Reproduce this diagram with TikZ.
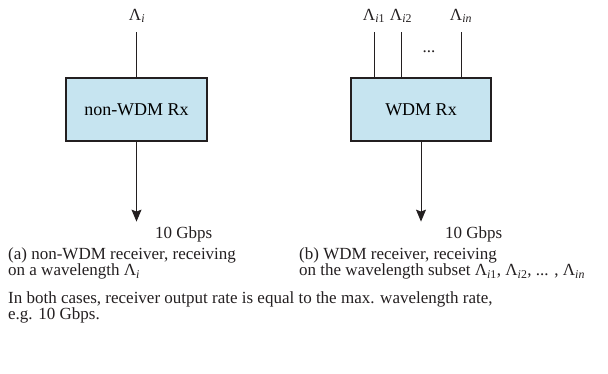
\documentclass[tikz,border=0pt]{standalone}
\usepackage{fontspec}
\setmainfont{Liberation Serif}
\usetikzlibrary{arrows.meta,positioning}

\definecolor{rxblue}{RGB}{198,228,240}
\definecolor{ink}{RGB}{35,31,32}

\tikzset{
  rxbox/.style={draw=ink, line width=1.2pt, fill=rxblue, minimum width=141pt,
    minimum height=63pt, inner sep=0pt, font=\fontsize{18}{20}\selectfont},
  wire/.style={line width=1pt, draw=ink},
  outwire/.style={wire, -{Stealth[length=12pt,width=10pt,inset=2pt]}},
  lbl/.style={font=\fontsize{17}{17}\selectfont, inner sep=0pt, text=ink},
  caption/.style={font=\fontsize{17}{15}\selectfont, align=left,
    anchor=north west, inner sep=0pt, text=ink},
}

\begin{document}
\begin{tikzpicture}[x=1pt,y=-1pt]
\useasboundingbox (0,0) rectangle (608,373);

% receivers
\node[rxbox] (rxA) at (136.5,109.5) {non-WDM Rx};
\node[rxbox, minimum width=140pt] (rxB) at (421,109.5) {WDM Rx};

% single wavelength input
\coordinate (inA) at (136.5,32);
  \draw[wire] (inA) -- (inA |- rxA.north);
\node[lbl, anchor=base] (lamA) at (137,20) {Λ\textsubscript{\textit{i}}};

% wavelength subset inputs
\foreach \x/\sub [count=\k] in {374/{\textit{i}1}, 401/{\textit{i}2}, 461/{\textit{in}}}{
  \coordinate (inB\k) at (\x,32);
  \draw[wire] (inB\k) -- (inB\k |- rxB.north);
  \node[lbl, anchor=base] (lamB\k) at (\x,20) {Λ\textsubscript{\sub}};
}
\node[lbl] (dotsB) at (429,52) {...};

% outputs
\path (rxA.south) ++(0,80) coordinate (outA);
  \draw[outwire] (rxA.south) -- (outA);
\path (rxB.south) ++(0,80) coordinate (outB);
  \draw[outwire] (rxB.south) -- (outB);

\node[lbl, anchor=base west] (rateA) at (155,238) {10 Gbps};
\node[lbl, anchor=base west] (rateB) at (445,238) {10 Gbps};

% captions
\node[caption] (capA) at (8,247) {(a) non-WDM receiver, receiving\\
  on a wavelength Λ\textsubscript{\textit{i}}};
\node[caption] (capB) at (299,247) {(b) WDM receiver, receiving\\
  on the wavelength subset Λ\textsubscript{\textit{i}1}, Λ\textsubscript{\textit{i}2}, ... , Λ\textsubscript{\textit{in}}};

\node[caption] (note) at (8,291) {In both cases, receiver output rate is equal to the max. wavelength rate,\\
  e.g. 10 Gbps.};

\end{tikzpicture}
\end{document}
